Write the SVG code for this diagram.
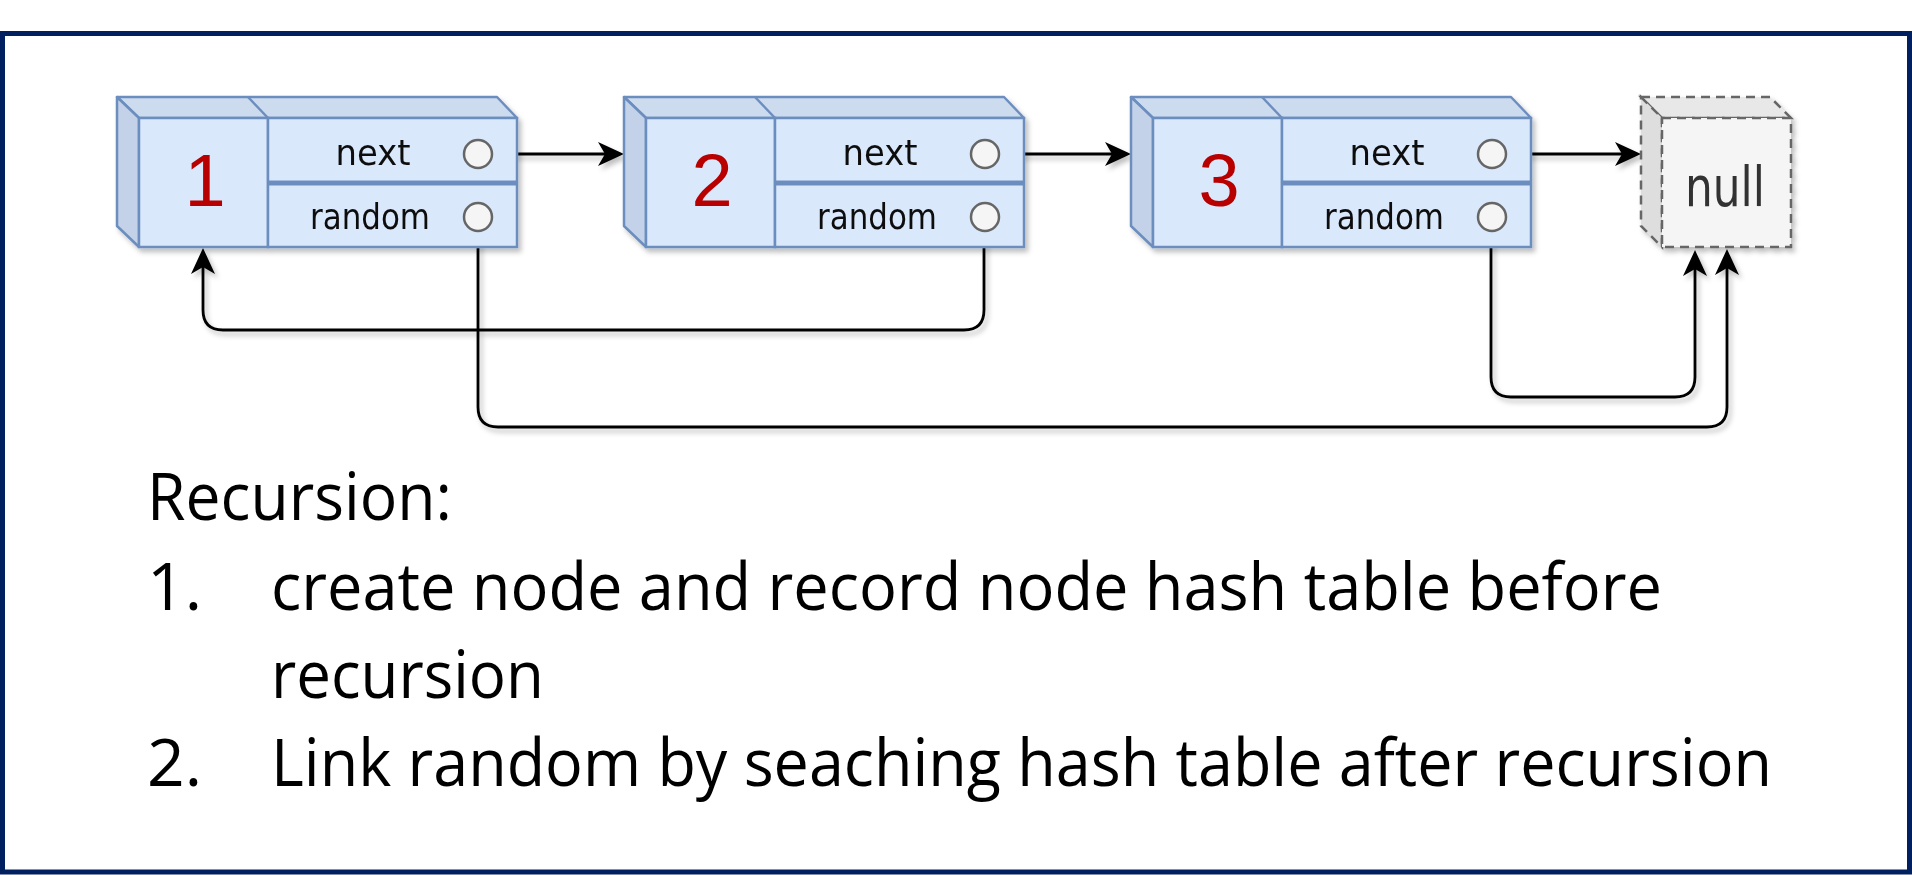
<svg xmlns="http://www.w3.org/2000/svg" width="1912" height="875" viewBox="0 0 1912 875">
<style>
.top{fill:#cddbef;stroke:#6c8ebf;stroke-width:2.5;stroke-linejoin:round}
.side{fill:#c3d2e8;stroke:#6c8ebf;stroke-width:2.5;stroke-linejoin:round}
.face{fill:#dae8fc;stroke:#6c8ebf;stroke-width:2.5}
.edge{stroke:#6c8ebf;stroke-width:2.5;fill:none}
.port{fill:#f5f5f5;stroke:#666;stroke-width:2.5}
.lbl{font-family:"DejaVu Sans",sans-serif;font-size:35px;fill:#111;text-anchor:middle}
.num{font-family:"Liberation Sans",Arial,sans-serif;font-size:74px;fill:#b80000;text-anchor:middle}
.ntop{fill:#e8e8e8;stroke:#666;stroke-width:2.5;stroke-dasharray:9 6}
.nside{fill:#dedede;stroke:#666;stroke-width:2.5;stroke-dasharray:9 6}
.nface{fill:#f5f5f5;stroke:#666;stroke-width:2.5;stroke-dasharray:9 6}
.conn{fill:none;stroke:#000;stroke-width:2.8;marker-end:url(#arr)}
.body{font-family:"Open Sans","Liberation Sans",sans-serif;font-size:66px;fill:#000}
</style>
<defs>
<filter id="sh" x="-10%" y="-10%" width="130%" height="140%">
<feDropShadow dx="3" dy="4" stdDeviation="2.5" flood-color="#000" flood-opacity="0.25"/>
</filter>
<marker id="arr" viewBox="-8 -13 28 26" refX="0" refY="0" markerWidth="28" markerHeight="26" markerUnits="userSpaceOnUse" orient="auto">
<path d="M19,0 L-7,-12 L0,0 L-7,12 Z" fill="#000"/>
</marker>
</defs>
<rect x="0" y="0" width="1912" height="875" fill="#fff"/>
<rect id="frame" x="2.5" y="33.5" width="1907" height="838.5" fill="none" stroke="#002060" stroke-width="5"/>

<g id="connectors" filter="url(#sh)">
<path class="conn" d="M492,154 L605,154"/>
<path class="conn" d="M999,154 L1112,154"/>
<path class="conn" d="M1506,154 L1622,154"/>
<path class="conn" d="M984,231 L984,310 Q984,330 964,330 L223,330 Q203,330 203,310 L203,267"/>
<path class="conn" d="M478,231 L478,407 Q478,427 498,427 L1707,427 Q1727,427 1727,407 L1727,268"/>
<path class="conn" d="M1491,231 L1491,377 Q1491,397 1511,397 L1675,397 Q1695,397 1695,377 L1695,269"/>
</g>

<g id="node1" filter="url(#sh)">
<polygon class="top" points="117,97 497,97 517,118 139,118"/>
<polygon class="side" points="117,97 139,118 139,247 117,226"/>
<rect class="face" x="139" y="118" width="129" height="129"/>
<rect class="face" x="268" y="118" width="249" height="129"/>
<line class="edge" x1="248" y1="97" x2="268" y2="118"/>
<line class="edge" x1="268" y1="183" x2="517" y2="183" style="stroke-width:5"/>
<circle class="port" cx="478" cy="154" r="14"/>
<circle class="port" cx="478" cy="217" r="14"/>
<text class="num" x="205" y="206">1</text>
<text class="lbl" x="373" y="165" textLength="75" lengthAdjust="spacingAndGlyphs">next</text>
<text class="lbl" x="370" y="229" textLength="120" lengthAdjust="spacingAndGlyphs">random</text>
</g>

<g id="node2" filter="url(#sh)" transform="translate(507,0)">
<polygon class="top" points="117,97 497,97 517,118 139,118"/>
<polygon class="side" points="117,97 139,118 139,247 117,226"/>
<rect class="face" x="139" y="118" width="129" height="129"/>
<rect class="face" x="268" y="118" width="249" height="129"/>
<line class="edge" x1="248" y1="97" x2="268" y2="118"/>
<line class="edge" x1="268" y1="183" x2="517" y2="183" style="stroke-width:5"/>
<circle class="port" cx="478" cy="154" r="14"/>
<circle class="port" cx="478" cy="217" r="14"/>
<text class="num" x="205" y="206">2</text>
<text class="lbl" x="373" y="165" textLength="75" lengthAdjust="spacingAndGlyphs">next</text>
<text class="lbl" x="370" y="229" textLength="120" lengthAdjust="spacingAndGlyphs">random</text>
</g>

<g id="node3" filter="url(#sh)" transform="translate(1014,0)">
<polygon class="top" points="117,97 497,97 517,118 139,118"/>
<polygon class="side" points="117,97 139,118 139,247 117,226"/>
<rect class="face" x="139" y="118" width="129" height="129"/>
<rect class="face" x="268" y="118" width="249" height="129"/>
<line class="edge" x1="248" y1="97" x2="268" y2="118"/>
<line class="edge" x1="268" y1="183" x2="517" y2="183" style="stroke-width:5"/>
<circle class="port" cx="478" cy="154" r="14"/>
<circle class="port" cx="478" cy="217" r="14"/>
<text class="num" x="205" y="206">3</text>
<text class="lbl" x="373" y="165" textLength="75" lengthAdjust="spacingAndGlyphs">next</text>
<text class="lbl" x="370" y="229" textLength="120" lengthAdjust="spacingAndGlyphs">random</text>
</g>

<g id="null" filter="url(#sh)">
<polygon class="ntop" points="1641,97 1770,97 1791,118 1662,118"/>
<polygon class="nside" points="1641,97 1662,118 1662,247 1641,226"/>
<rect class="nface" x="1662" y="118" width="129" height="129"/>
<text x="1725" y="206" font-family="DejaVu Sans, sans-serif" font-size="55" fill="#333" text-anchor="middle" textLength="80" lengthAdjust="spacingAndGlyphs">null</text>
</g>

<g id="notes">
<text class="body" x="147" y="520" textLength="305" lengthAdjust="spacingAndGlyphs">Recursion:</text>
<text class="body" x="147" y="610">1.</text>
<text class="body" x="271" y="610" textLength="1391" lengthAdjust="spacingAndGlyphs">create node and record node hash table before</text>
<text class="body" x="271" y="698" textLength="273" lengthAdjust="spacingAndGlyphs">recursion</text>
<text class="body" x="147" y="786">2.</text>
<text class="body" x="271" y="786" textLength="1501" lengthAdjust="spacingAndGlyphs">Link random by seaching hash table after recursion</text>
</g>
</svg>
